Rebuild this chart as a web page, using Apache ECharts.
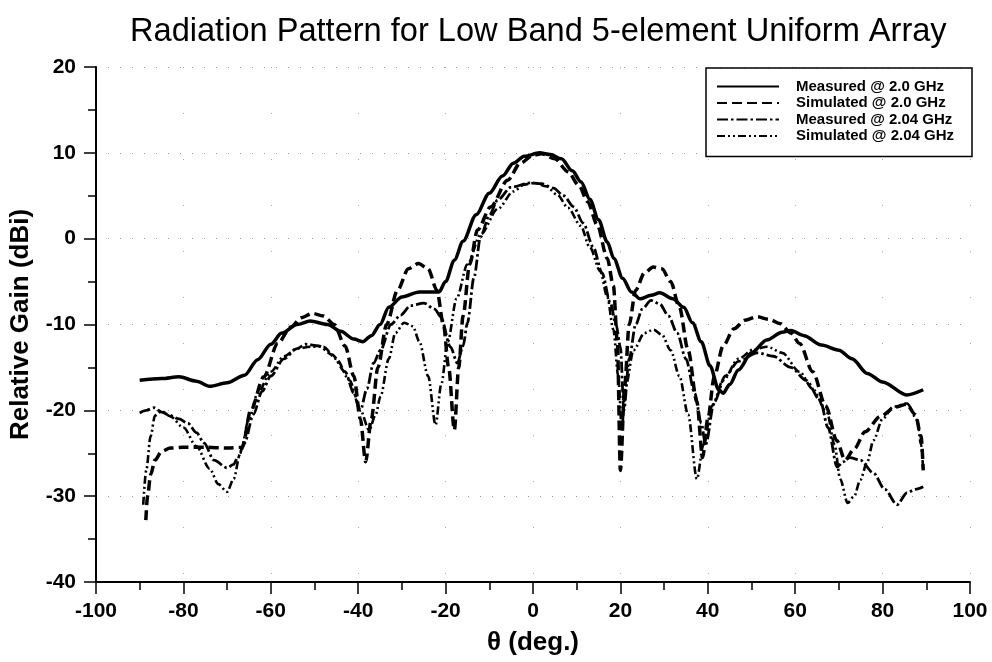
<!DOCTYPE html>
<html>
<head>
<meta charset="utf-8">
<title>Radiation Pattern for Low Band 5-element Uniform Array</title>
<script src="https://cdn.jsdelivr.net/npm/echarts@6/dist/echarts.min.js"></script>
<style>
  html, body { margin: 0; padding: 0; background: #fff; }
  #chart { width: 992px; height: 662px; }
</style>
</head>
<body>
<div id="chart"></div>
<script>
// Angle (deg) / relative gain (dBi) pairs for each pattern cut
const measured20 = [
  [-90,-16.5],[-85,-16.3],[-81,-16.1],[-77,-16.6],[-74,-17.2],[-70,-16.8],[-66,-15.9],[-63,-14.1],
  [-60,-12.3],[-57.5,-11],[-54,-10],[-51,-9.6],[-47,-10],[-44,-10.8],[-41,-11.7],[-39,-12],
  [-37,-11.3],[-35,-10],[-33,-8],[-30,-6.8],[-26,-6.2],[-21.5,-6.2],[-20,-5],[-18,-2.5],
  [-16,-0.3],[-13,2.8],[-10,5.3],[-7,7.3],[-4.5,8.8],[-2,9.6],[1.5,10],[4,9.8],[6.5,9.3],
  [9,7.9],[11,6.6],[13,4.6],[15,2.2],[17,-0.4],[18.5,-2.3],[20.5,-4.6],[22.5,-6.2],[24.5,-7],
  [27,-6.6],[29,-6.3],[32,-7],[34.5,-8],[36.5,-9.8],[38.5,-12],[40.5,-14.8],[42.5,-17.6],
  [43.5,-18],[45,-17],[47,-15.3],[50,-13.3],[53.5,-11.8],[57,-10.9],[59,-10.7],[62,-11.3],
  [66,-12.4],[70,-13],[73,-14],[76.5,-15.7],[80,-16.7],[85.5,-18.2],[89.3,-17.6]
];
const simulated20 = [
  [-88.6,-32.8],[-88.2,-30],[-87.5,-27.5],[-86.5,-25.8],[-85,-24.8],[-83,-24.4],[-80,-24.3],
  [-75,-24.3],[-70,-24.4],[-66.5,-24.3],[-64.6,-20],[-61.6,-16.1],[-58.4,-12.2],[-55.4,-10.3],
  [-53,-9.2],[-50.5,-8.7],[-48,-9],[-45.5,-10],[-43,-12.5],[-41,-16],[-39.5,-21],[-38.3,-26],
  [-37,-21],[-35.5,-15],[-33.5,-10],[-31,-6],[-28.5,-3.5],[-26.2,-2.9],[-24,-3.5],[-22,-6],
  [-20.5,-10],[-19.3,-15],[-18,-22.3],[-17,-15],[-16,-9],[-14.5,-3],[-12.7,1],[-9.7,3.7],
  [-5.8,6.8],[-2.9,8.8],[0,9.7],[2,9.9],[5,9.3],[8,7.8],[10.5,6.2],[12.5,4.3],[14.7,1.6],
  [17,-2.3],[18.4,-5.5],[19.3,-12],[20,-27],[21,-17],[22,-10],[23.5,-6],[25.5,-4],[27.5,-3.3],
  [29.5,-3.5],[31.5,-5],[33.5,-8],[35.5,-13],[37.5,-19],[38.8,-25.5],[40,-21],[41.5,-16],
  [43.5,-12.5],[46,-10.5],[48.5,-9.5],[51.3,-9.1],[54,-9.4],[56.6,-9.9],[59,-11],[61,-12.2],
  [64,-15.5],[67,-19.5],[69.5,-23.5],[71.4,-25.8],[73.5,-24.5],[76,-22.5],[79.5,-20.7],
  [83,-19.6],[85.5,-19.3],[87.5,-20.5],[88.8,-23],[89.3,-27]
];
const measured204 = [
  [-90,-20.3],[-88.5,-20],[-86.7,-19.7],[-85,-20.2],[-83.5,-20.5],[-81,-21],[-79,-21.5],
  [-77,-22.6],[-75.3,-23.8],[-73,-25.8],[-70,-26.7],[-68.5,-26.3],[-67.5,-25.4],[-66,-23.8],
  [-64,-20.5],[-62,-17.8],[-60,-16],[-57,-14],[-54,-12.8],[-52,-12.3],[-49,-12.5],[-46,-13.5],
  [-43,-15.5],[-41,-18],[-39.5,-20],[-38,-17.5],[-36.5,-14.5],[-34.9,-13],[-32.5,-10],
  [-30.3,-8.9],[-28,-7.8],[-25,-7.5],[-22.5,-8.2],[-21.1,-9.1],[-18.9,-12.6],[-17.3,-14.5],
  [-16,-12.5],[-15,-9.8],[-13.5,-4.5],[-12,0.2],[-10,2.7],[-8.1,4.5],[-5,6],[-0.6,6.5],
  [2,6.4],[4.7,5.9],[7,5],[9.3,3.7],[11.5,1.8],[13.8,-1],[15.8,-4],[17.7,-7.5],[19,-10],
  [20,-12.6],[20.8,-20],[22,-14],[23.5,-10],[25,-8.2],[27,-7.2],[29,-7.6],[31,-9],[33,-11],
  [35,-14],[37,-18],[38.5,-21.5],[39.5,-24],[41.5,-19],[44,-16],[47,-14.3],[51.3,-13.3],
  [55,-13.7],[59,-15],[62.5,-16.5],[65.7,-18.8],[67.5,-22],[69.6,-26.6],[71,-26],[72.5,-25.5],
  [74.9,-25.8],[77.9,-27.3],[80.5,-29.2],[83.3,-31],[85.6,-29.6],[87.5,-29.2],[89.3,-28.9]
];
const simulated204 = [
  [-89.2,-31],[-88.5,-27],[-87.5,-23],[-86.5,-20.6],[-85,-20.1],[-83,-20.7],[-80,-22],
  [-77,-24.2],[-74,-26.8],[-72,-28.6],[-70,-29.5],[-68.5,-28],[-67,-25],[-65,-21],[-63,-18],
  [-60,-15.5],[-57,-13.7],[-54,-12.8],[-51,-12.6],[-48,-12.6],[-45,-14],[-42,-16.5],
  [-39.5,-20],[-37.5,-22.3],[-36,-20.5],[-34.9,-18.4],[-33,-14],[-31.5,-11],[-29.5,-9.8],
  [-27.5,-10.2],[-26,-12],[-24,-16],[-22.3,-21.7],[-21,-17],[-19.5,-12],[-17.5,-7],[-15,-3],
  [-12,0.5],[-8,3.5],[-4.5,5.5],[-2,6.3],[0.5,6.5],[3,6.1],[5.6,5.1],[8,3.6],[10.9,1.5],
  [13,-1],[15.4,-3.8],[17,-6.8],[18.4,-10.6],[19.5,-16],[20.3,-22],[21.3,-17],[23,-13],
  [25.5,-11],[27.6,-10.6],[29.5,-11.2],[31.5,-13],[33.5,-16],[35.5,-20.5],[37.5,-28],[39,-24],
  [41,-19.5],[43.5,-16.5],[47,-14],[50.5,-12.9],[53.6,-12.6],[57,-13.3],[61,-15.5],[64,-17.5],
  [67.3,-20.3],[69,-24],[70.3,-28],[72,-30.8],[73.5,-30],[74.9,-28.1],[76.5,-26],[77.9,-23.5],
  [80,-21],[82.4,-19.6],[85.6,-19.2],[87.9,-21.1],[88.8,-24],[89.3,-27]
];

const seriesNames = [
  'Measured @ 2.0 GHz',
  'Simulated @ 2.0 GHz',
  'Measured @ 2.04 GHz',
  'Simulated @ 2.04 GHz'
];

// Axis ranges (deg and dBi)
const thetaRange = [-100, 100, 20];
const gainRange = [-40, 20, 10];

const FONT = '"Liberation Sans", Arial, Helvetica, sans-serif';

function patternSeries(name, data, width, dash) {
  return {
    name: name,
    type: 'line',
    data: data,
    symbol: 'none',
    smooth: 0.3,
    smoothMonotone: 'x',
    lineStyle: { color: '#000', width: width, type: dash, cap: 'butt' },
    itemStyle: { color: '#000' }
  };
}

const chart = echarts.init(document.getElementById('chart'), null, { renderer: 'canvas' });

chart.setOption({
  backgroundColor: '#fff',
  animation: false,
  title: {
    text: 'Radiation Pattern for Low Band 5-element Uniform Array',
    left: 125,
    top: 11,
    textStyle: { fontFamily: FONT, fontSize: 32.6, fontWeight: 'normal', color: '#000' }
  },
  legend: {
    orient: 'vertical',
    left: 706,
    top: 68,
    itemWidth: 62,
    itemHeight: 14,
    itemGap: 1.5,
    padding: [11, 18, 13, 10],
    borderColor: '#000',
    borderWidth: 1.5,
    backgroundColor: '#fff',
    itemStyle: { opacity: 0 },
    data: seriesNames,
    textStyle: { fontFamily: FONT, fontSize: 15, fontWeight: 'bold', color: '#000', padding: [0, 0, 0, 12] }
  },
  grid: { left: 96, right: 22, top: 67, bottom: 80, containLabel: false },
  xAxis: {
    type: 'value',
    min: thetaRange[0], max: thetaRange[1], interval: thetaRange[2],
    name: 'θ (deg.)',
    nameLocation: 'middle',
    nameGap: 48,
    nameTextStyle: { fontFamily: FONT, fontSize: 26, fontWeight: 'bold', color: '#000' },
    axisLine: { onZero: false, lineStyle: { color: '#000', width: 2 } },
    axisTick: { show: true, inside: false, length: 12, lineStyle: { color: '#000', width: 1.5 } },
    minorTick: { show: true, splitNumber: 2, length: 8, lineStyle: { color: '#000', width: 1.5 } },
    axisLabel: { margin: 19, fontFamily: FONT, fontSize: 21, fontWeight: 'bold', color: '#000' },
    splitLine: { show: true, lineStyle: { color: '#aaa', width: 1, type: [1, 45] } }
  },
  yAxis: {
    type: 'value',
    min: gainRange[0], max: gainRange[1], interval: gainRange[2],
    name: 'Relative Gain (dBi)',
    nameLocation: 'middle',
    nameGap: 62,
    nameTextStyle: { fontFamily: FONT, fontSize: 26, fontWeight: 'bold', color: '#000' },
    axisLine: { onZero: false, lineStyle: { color: '#000', width: 2 } },
    axisTick: { show: true, inside: false, length: 12, lineStyle: { color: '#000', width: 1.5 } },
    minorTick: { show: true, splitNumber: 2, length: 8, lineStyle: { color: '#000', width: 1.5 } },
    axisLabel: { margin: 20, fontFamily: FONT, fontSize: 21, fontWeight: 'bold', color: '#000' },
    splitLine: { show: true, lineStyle: { color: '#999', width: 1, type: [1, 11] } }
  },
  series: [
    patternSeries(seriesNames[0], measured20, 3.5, 'solid'),
    patternSeries(seriesNames[1], simulated20, 3.5, [10, 5]),
    patternSeries(seriesNames[2], measured204, 2.8, [11, 3, 2.5, 3]),
    patternSeries(seriesNames[3], simulated204, 2.6, [8, 3, 2, 3, 2, 3])
  ]
});
</script>
</body>
</html>
